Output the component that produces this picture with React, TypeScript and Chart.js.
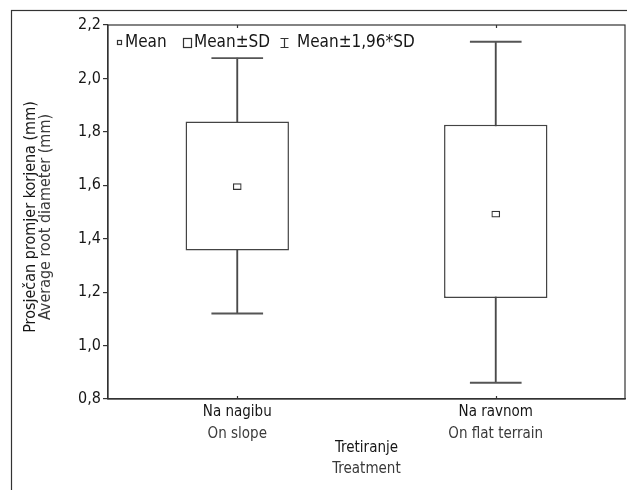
import React, { useEffect, useRef } from 'react';
import { Chart, registerables } from 'chart.js';

Chart.register(...registerables);

// ---- data ----
const categories = ['Na nagibu', 'Na ravnom'];
const categoriesEn = ['On slope', 'On flat terrain'];
const means = [1.595, 1.492];
const sdLow = [1.356, 1.178];
const sdHigh = [1.839, 1.827];
const ciLow = [1.12, 0.861];
const ciHigh = [2.076, 2.137];
const yTickValues = [0.8, 1.0, 1.2, 1.4, 1.6, 1.8, 2.0, 2.2];
const yTitle = ['Prosječan promjer korjena (mm)', 'Average root diameter (mm)'];
const xTitle = ['Tretiranje', 'Treatment'];
const legendLabels = ['Mean', 'Mean\u00B1SD', 'Mean\u00B11,96*SD'];

const FAMILY = "'DejaVu Sans Condensed', 'Liberation Sans', sans-serif";
const FS_AXIS = 15;
const FS_TICK = 16;
const FS_YTITLE = 16;
const FS_LEG = 17;
const DARK = '#161616';
const MID = '#3a3a3a';
const LINE = '#444';
const CAP_HALF = 0.0025; // half-thickness of whisker caps in data units
const MEAN_HALF = 0.011; // half-height of the mean marker in data units

const decorPlugin = {
  id: 'decor',
  beforeDraw(chart: any) {
    const ctx = chart.ctx;
    ctx.save();
    ctx.fillStyle = '#fff';
    ctx.fillRect(0, 0, chart.width, chart.height);
    ctx.strokeStyle = '#333';
    ctx.lineWidth = 1.2;
    ctx.strokeRect(11.5, 10.5, chart.width + 40, chart.height + 40);
    ctx.restore();
  },
  afterDraw(chart: any) {
    const ctx = chart.ctx;
    const a = chart.chartArea;
    const xs = chart.scales.x;
    ctx.save();
    // plot frame
    ctx.strokeStyle = '#333';
    ctx.lineWidth = 1.2;
    ctx.strokeRect(a.left, a.top, a.right - a.left, a.bottom - a.top);
    // inner category ticks
    ctx.beginPath();
    categories.forEach((_, i) => {
      const px = Math.round(xs.getPixelForValue(i)) + 0.5;
      ctx.moveTo(px, a.bottom);
      ctx.lineTo(px, a.bottom - 3);
      ctx.moveTo(px, a.top);
      ctx.lineTo(px, a.top + 3);
    });
    ctx.stroke();

    ctx.font = `${FS_AXIS}px ${FAMILY}`;
    ctx.textAlign = 'center';
    ctx.textBaseline = 'alphabetic';
    // English sub-labels
    ctx.fillStyle = MID;
    categoriesEn.forEach((t, i) => {
      ctx.fillText(t, xs.getPixelForValue(i), a.bottom + 39);
    });
    // x title
    const cx = (a.left + a.right) / 2;
    ctx.fillStyle = DARK;
    ctx.fillText(xTitle[0], cx, a.bottom + 53);
    ctx.fillStyle = MID;
    ctx.fillText(xTitle[1], cx, a.bottom + 74);

    // y title
    const cy = (a.top + a.bottom) / 2 + 5;
    ctx.save();
    ctx.font = `${FS_YTITLE}px ${FAMILY}`;
    ctx.translate(35, cy);
    ctx.rotate(-Math.PI / 2);
    ctx.fillStyle = DARK;
    ctx.fillText(yTitle[0], 0, 0);
    ctx.fillStyle = MID;
    ctx.fillText(yTitle[1], 0, 15);
    ctx.restore();

    // legend
    const ly = a.top + 18;
    ctx.font = `${FS_LEG}px ${FAMILY}`;
    ctx.textAlign = 'left';
    ctx.textBaseline = 'middle';
    ctx.fillStyle = DARK;
    ctx.strokeStyle = '#333';
    ctx.lineWidth = 1.2;
    ctx.strokeRect(a.left + 9.5, ly - 2.5, 4, 4);
    ctx.fillText(legendLabels[0], a.left + 17, ly);
    ctx.strokeRect(a.left + 75.5, ly - 4.5, 8, 9);
    ctx.fillText(legendLabels[1], a.left + 86, ly);
    const wx = a.left + 176.5;
    ctx.beginPath();
    ctx.moveTo(wx - 4, ly - 4.5);
    ctx.lineTo(wx + 4, ly - 4.5);
    ctx.moveTo(wx, ly - 4.5);
    ctx.lineTo(wx, ly + 4.5);
    ctx.moveTo(wx - 4, ly + 4.5);
    ctx.lineTo(wx + 4, ly + 4.5);
    ctx.stroke();
    ctx.fillText(legendLabels[2], a.left + 189, ly);
    ctx.restore();
  },
};

export default function App() {
  const ref = useRef<HTMLCanvasElement | null>(null);
  useEffect(() => {
    if (!ref.current) return;
    Chart.defaults.font.family = FAMILY;
    const chart = new Chart(ref.current, {
      type: 'bar',
      data: {
        labels: categories,
        datasets: [
          {
            label: 'mean',
            data: means.map((m) => [m - MEAN_HALF, m + MEAN_HALF]),
            backgroundColor: '#fff',
            borderColor: '#333',
            borderWidth: 1.2,
            borderSkipped: false,
            grouped: false,
            barThickness: 8,
            order: 0,
          } as any,
          {
            label: 'capHigh',
            data: ciHigh.map((v) => [v - CAP_HALF, v + CAP_HALF]),
            backgroundColor: '#555',
            borderWidth: 0,
            grouped: false,
            barThickness: 51,
            order: 1,
          } as any,
          {
            label: 'capLow',
            data: ciLow.map((v) => [v - CAP_HALF, v + CAP_HALF]),
            backgroundColor: '#555',
            borderWidth: 0,
            grouped: false,
            barThickness: 51,
            order: 1,
          } as any,
          {
            label: 'box',
            data: categories.map((_, i) => [sdLow[i], sdHigh[i]]),
            backgroundColor: '#fff',
            borderColor: LINE,
            borderWidth: 1.5,
            borderSkipped: false,
            grouped: false,
            categoryPercentage: 1,
            barPercentage: 0.4,
            order: 2,
          } as any,
          {
            label: 'whisker',
            data: categories.map((_, i) => [ciLow[i], ciHigh[i]]),
            backgroundColor: '#4a4a4a',
            borderWidth: 0,
            grouped: false,
            barThickness: 1.2,
            order: 3,
          } as any,
        ],
      },
      options: {
        animation: false,
        responsive: false,
        maintainAspectRatio: false,
        layout: { padding: { top: 25, right: 2, left: 0, bottom: 0 } },
        plugins: { legend: { display: false }, tooltip: { enabled: false }, title: { display: false } },
        scales: {
          x: {
            type: 'category',
            offset: true,
            grid: { display: false, drawTicks: false },
            border: { display: true, color: '#333', width: 1.2 },
            ticks: { color: DARK, font: { size: FS_AXIS, family: FAMILY }, padding: 4, maxRotation: 0 },
            afterFit: (s: any) => { s.height = 91; },
          },
          y: {
            type: 'linear',
            min: 0.8,
            max: 2.2,
            afterBuildTicks: (s: any) => { s.ticks = yTickValues.map((v) => ({ value: v })); },
            grid: { display: true, drawOnChartArea: false, drawTicks: true, tickLength: 5, color: '#333', lineWidth: 1.2 },
            border: { display: true, color: '#333', width: 1.2 },
            ticks: {
              color: DARK,
              font: { size: FS_TICK, family: FAMILY },
              padding: 2,
              callback: (v: any) => Number(v).toFixed(1).replace('.', ','),
            },
            afterFit: (s: any) => { s.width = 108; },
          },
        },
      },
      plugins: [decorPlugin],
    });
    return () => chart.destroy();
  }, []);
  return (
    <div style={{ position: 'fixed', left: 0, top: 0, width: 627, height: 490, background: '#fff' }}>
      <canvas ref={ref} width={627} height={490} style={{ display: 'block', width: 627, height: 490 }} />
    </div>
  );
}
